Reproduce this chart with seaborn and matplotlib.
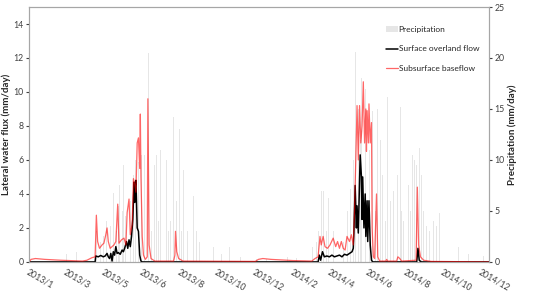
import numpy as np
import pandas as pd
import matplotlib
matplotlib.use("Agg")
import matplotlib.pyplot as plt
import seaborn as sns

# days counted from 2013-01-01
precip_day = [59, 75, 92, 107, 113, 119, 123, 127, 130, 134, 139, 142, 144, 148, 150, 154,
              159, 161, 166, 169, 174, 179, 184, 190, 195, 199, 203, 206, 209, 213, 219, 222,
              225, 230, 235, 240, 243, 246, 252, 256, 261, 266, 271, 293, 306, 319, 336, 362,
              378, 411, 426, 451, 458, 461, 466, 469, 473, 476, 484, 490, 495, 500, 507, 511,
              516, 520, 524, 527, 529, 533, 536, 538, 542, 546, 549, 552, 555, 559, 563, 567,
              570, 575, 580, 584, 587, 591, 593, 596, 600, 604, 607, 610, 613, 617, 621, 625,
              628, 633, 638, 644, 649, 653, 670, 683, 699, 723]
precip_mm = [0.8, 1.0, 0.5, 3.0, 2.0, 2.5, 4.0, 10.2, 3.5, 6.8, 3.0, 5.5, 7.5, 5.0, 9.5, 4.5,
             13.3, 6.0, 8.5, 10.0, 9.8, 10.5, 10.5, 20.5, 3.0, 9.5, 10.5, 4.0, 11.0, 5.0, 10.0, 3.0,
             4.0, 14.2, 6.0, 13.0, 3.0, 9.0, 3.0, 2.0, 6.5, 3.0, 2.0, 1.5, 0.8, 1.5, 0.5, 0.3,
             0.3, 0.5, 0.4, 1.5, 2.0, 3.0, 7.0, 7.0, 3.0, 6.3, 3.0, 2.0, 2.5, 2.0, 5.0, 7.2,
             10.0, 20.6, 15.0, 12.0, 18.0, 16.0, 17.0, 12.0, 11.0, 14.8, 8.0, 5.0, 15.0, 12.0, 8.5, 4.0,
             16.2, 6.0, 7.0, 9.5, 8.5, 15.2, 5.0, 4.0, 3.5, 7.5, 5.0, 10.5, 10.0, 9.5, 11.2, 8.5,
             5.0, 3.5, 3.0, 4.0, 3.5, 4.8, 6.5, 1.5, 0.8, 0.6]

overland_day = [0, 105, 106, 110, 114, 118, 121, 124, 126, 128, 130, 132, 134, 136, 138, 140,
                142, 145, 148, 150, 152, 155, 157, 159, 161, 163, 165, 167, 168, 169, 170, 172,
                174, 176, 178, 180, 460, 462, 464, 467, 470, 474, 478, 482, 486, 490, 494, 498,
                502, 506, 510, 514, 516, 517, 519, 521, 522, 524, 527, 529, 530, 531, 533, 535,
                536, 538, 539, 541, 543, 545, 547, 617, 619, 621, 624, 732]
overland_flow = [0, 0, 0.35, 0.3, 0.38, 0.3, 0.35, 0.5, 0.3, 0.2, 0.5, 0.05, 0.6, 0.4, 0.9, 0.5,
                 0.55, 0.45, 0.7, 0.6, 0.8, 1.2, 0.8, 1.3, 0.9, 1.5, 2.5, 4.7, 3.5, 4.5, 4.8, 2.0,
                 1.8, 0.4, 0.05, 0, 0, 0.4, 0.1, 0.6, 0.3, 0.35, 0.3, 0.4, 0.3, 0.35, 0.4, 0.3,
                 0.45, 0.4, 0.5, 0.6, 0.8, 1.7, 4.5, 2.0, 3.3, 1.7, 6.3, 5.0, 2.5, 5.0, 2.0, 4.0,
                 1.5, 3.6, 1.2, 3.6, 1.0, 0.1, 0, 0, 0.8, 0.1, 0, 0]

baseflow_day = [0, 3, 10, 25, 50, 85, 92, 100, 105, 107, 109, 112, 116, 119, 122, 124, 126, 129,
                132, 135, 138, 141, 143, 147, 151, 154, 156, 159, 161, 164, 166, 168, 170, 172,
                174, 176, 177, 178, 180, 182, 185, 188, 189, 191, 194, 200, 230, 232, 233, 235,
                238, 245, 360, 365, 372, 385, 420, 450, 455, 460, 463, 465, 468, 471, 475, 479,
                484, 488, 491, 494, 497, 500, 503, 506, 510, 513, 516, 518, 520, 522, 524, 526,
                528, 530, 532, 534, 536, 537, 538, 540, 541, 543, 545, 546, 548, 550, 553, 555,
                558, 568, 569, 571, 585, 587, 590, 593, 616, 618, 620, 623, 628, 640, 732]
baseflow = [0.0, 0.15, 0.2, 0.15, 0.1, 0.05, 0.1, 0.25, 0.3, 2.75, 1.2, 0.8, 1.0, 1.1, 1.6, 2.0, 1.2, 0.8,
            0.9, 1.0, 1.2, 3.4, 1.1, 1.3, 1.4, 1.0, 2.9, 3.7, 1.6, 2.2, 4.9, 4.6, 4.1, 7.0,
            7.3, 5.5, 8.7, 5.0, 1.5, 0.4, 0.15, 0.3, 9.6, 1.0, 0.2, 0.05, 0.05, 0.4, 1.8, 0.6,
            0.2, 0.05, 0.03, 0.15, 0.2, 0.15, 0.08, 0.05, 0.2, 0.3, 1.5, 1.0, 1.5, 0.9, 0.8, 1.0,
            1.4, 0.9, 1.2, 0.8, 1.2, 0.8, 0.7, 1.5, 1.2, 1.6, 1.0, 3.0, 6.0, 9.2, 6.0, 9.2,
            7.0, 8.0, 10.6, 7.0, 9.0, 6.5, 8.9, 7.0, 9.3, 7.0, 8.2, 2.0, 0.3, 0.2, 4.0, 0.3,
            0.05, 0.05, 0.15, 0.05, 0.05, 0.3, 0.2, 0.05, 0.1, 4.4, 1.0, 0.3, 0.1, 0.03, 0.0]

tick_days = list(range(0, 721, 60))
start = pd.Timestamp("2013-01-01")
tick_labels = [f"{d.year}/{d.month}" for d in (start + pd.to_timedelta(tick_days, unit="D"))]

sns.set_style("white")
plt.rcParams["font.family"] = ["Lato", "DejaVu Sans"]

fig, ax = plt.subplots(figsize=(5.5, 2.92), dpi=100)
fig.subplots_adjust(left=0.053, right=0.889, top=0.976, bottom=0.103)
ax2 = ax.twinx()

ax2.bar(precip_day, precip_mm, width=1.3, color="#e6e6e6", linewidth=0, label="Precipitation")
ax2.set_ylim(0, 25)
ax2.set_yticks(range(0, 26, 5))

sns.lineplot(x=overland_day, y=overland_flow, ax=ax, color="black", linewidth=1.1,
             label="Surface overland flow")
sns.lineplot(x=baseflow_day, y=baseflow, ax=ax, color="#ff0000", alpha=0.6, linewidth=0.9,
             label="Subsurface baseflow")

ax.set_zorder(ax2.get_zorder() + 1)
ax.patch.set_visible(False)

ax.set_xlim(0, 732)
ax.set_ylim(0, 15)
ax.set_yticks(range(0, 15, 2))
ax.set_xticks(tick_days)
ax.set_xticklabels(tick_labels, rotation=-30, ha="left", rotation_mode="anchor")

ax.set_ylabel("Lateral water flux (mm/day)", fontsize=7, fontweight="bold", labelpad=2)
ax2.set_ylabel("Precipitation (mm/day)", fontsize=7, fontweight="bold", labelpad=2)

for a in (ax, ax2):
    a.tick_params(labelsize=6.3, colors="#404040", length=2, pad=2)
    for s in a.spines.values():
        s.set_color("#a6a6a6")
        s.set_linewidth(0.8)
ax.set_xlabel("")

h1, l1 = ax.get_legend_handles_labels()
h2, l2 = ax2.get_legend_handles_labels()
ax.legend(h2 + h1, l2 + l1, loc="upper right", bbox_to_anchor=(0.995, 0.955), frameon=False,
          fontsize=6, handlelength=1.4, handletextpad=0.1, labelspacing=1.5)

fig.savefig("out.png", dpi=100)
